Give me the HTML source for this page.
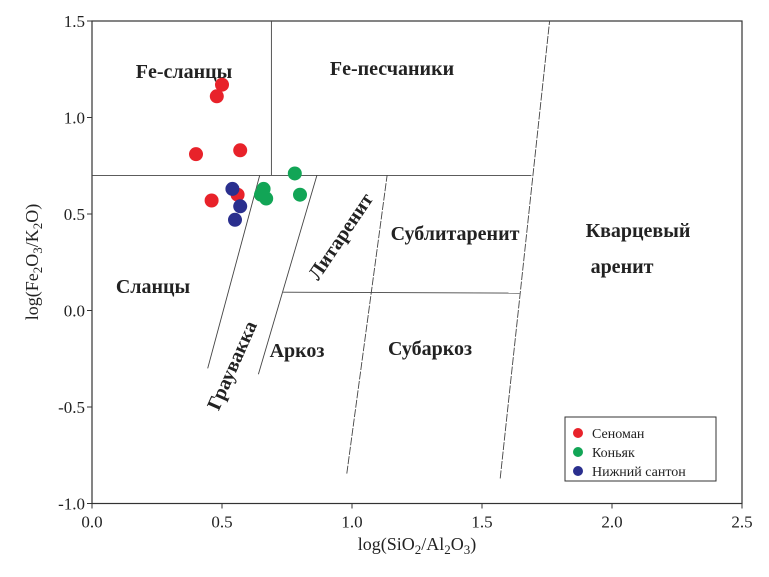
<!DOCTYPE html>
<html><head><meta charset="utf-8"><style>
body{margin:0;background:#fff;}
svg{display:block;font-family:"Liberation Serif",serif;}
.lab{font-weight:bold;font-size:20px;fill:#222;}
.tick{font-size:17px;fill:#222;}
</style></head><body>
<svg id="chart" width="769" height="577"></svg>
<script>
const xTicks=[0,0.5,1.0,1.5,2.0,2.5];
const yTicks=[-1.0,-0.5,0.0,0.5,1.0,1.5];
const senomanX=[0.50,0.48,0.40,0.57,0.46,0.56];
const senomanY=[1.17,1.11,0.81,0.83,0.57,0.60];
const konyakX=[0.66,0.65,0.67,0.78,0.80];
const konyakY=[0.63,0.60,0.58,0.71,0.60];
const santonX=[0.54,0.57,0.55];
const santonY=[0.63,0.54,0.47];
const sx=v=>92+260*v, sy=v=>310.5-193*v;
const svg=document.getElementById('chart');
const NS='http://www.w3.org/2000/svg';
function mk(t,a,p){const e=document.createElementNS(NS,t);for(const k in a)e.setAttribute(k,a[k]);(p||svg).appendChild(e);return e;}
let fr=mk('rect',{x:sx(0),y:sy(1.5),width:sx(2.5)-sx(0),height:sy(-1)-sy(1.5),fill:'none',stroke:'#333','stroke-width':1.2});


xTicks.forEach(v=>{
 mk('line',{x1:sx(v),x2:sx(v),y1:sy(-1),y2:sy(-1)+5,stroke:'#333'});
 const t=mk('text',{x:sx(v),y:sy(-1)+24,'text-anchor':'middle',class:'tick'});t.textContent=v.toFixed(1);
 
 
});
yTicks.forEach(v=>{
 mk('line',{x1:sx(0)-5,x2:sx(0),y1:sy(v),y2:sy(v),stroke:'#333'});
 const t=mk('text',{x:sx(0)-7,y:sy(v)+6,'text-anchor':'end',class:'tick'});t.textContent=v.toFixed(1);
 
 
});
const lines=[[0,0.70,1.69,0.70,0],[0.69,0.70,0.69,1.5,0],[0.445,-0.30,0.645,0.70,0],[0.64,-0.33,0.865,0.70,0],
[0.735,0.095,1.645,0.09,0],[0.98,-0.845,1.135,0.70,1],[1.57,-0.87,1.76,1.5,1]];
lines.forEach(l=>{const e=mk('line',{x1:sx(l[0]),y1:sy(l[1]),x2:sx(l[2]),y2:sy(l[3]),stroke:'#444','stroke-width':0.9});
 if(l[4])e.setAttribute('stroke-dasharray','8,1.5');
 
 });
function lab(x,y,s,rot,name){const t=mk('text',{x:x,y:y,class:'lab','text-anchor':'middle'});t.textContent=s;
 if(rot)t.setAttribute('transform',`rotate(${rot} ${x} ${y})`);
 
 }
lab(184,78,'Fe-сланцы',0,'fe-shale-label');
lab(392,75,'Fe-песчаники',0,'fe-sandstone-label');
lab(153,293,'Сланцы',0,'shale-label');
lab(455,240,'Сублитаренит',0,'sublitharenite-label');
lab(638,237,'Кварцевый',0,'quartz-arenite-label-1');
lab(622,273,'аренит',0,'quartz-arenite-label-2');
lab(297,357,'Аркоз',0,'arkose-label');
lab(430,355,'Субаркоз',0,'subarkose-label');
lab(346,240,'Литаренит',-56,'litharenite-label');
lab(238,368,'Граувакка',-66,'graywacke-label');
function series(xs,ys,c,name){xs.forEach((v,i)=>{const e=mk('circle',{cx:sx(v),cy:sy(ys[i]),r:7,fill:c});
 
 });}
series(senomanX,senomanY,'#e8222a','point-senoman');
series(santonX,santonY,'#2a2f8e','point-lower-santon');
series(konyakX,konyakY,'#12a556','point-konyak');
const xt=mk('text',{x:sx(1.25),y:550,'text-anchor':'middle',style:'font-size:18px;fill:#222'});
xt.innerHTML='log(SiO<tspan dy="4" font-size="13">2</tspan><tspan dy="-4">/Al</tspan><tspan dy="4" font-size="13">2</tspan><tspan dy="-4">O</tspan><tspan dy="4" font-size="13">3</tspan><tspan dy="-4">)</tspan>';


const yt=mk('text',{x:38,y:262,'text-anchor':'middle',style:'font-size:18px;fill:#222',transform:'rotate(-90 38 262)'});
yt.innerHTML='log(Fe<tspan dy="4" font-size="13">2</tspan><tspan dy="-4">O</tspan><tspan dy="4" font-size="13">3</tspan><tspan dy="-4">/K</tspan><tspan dy="4" font-size="13">2</tspan><tspan dy="-4">O)</tspan>';


const lg=mk('g',{});


mk('rect',{x:565,y:417,width:151,height:64,fill:'#fff',stroke:'#333'},lg);
const legNames=['Сеноман','Коньяк','Нижний сантон'],legCols=['#e8222a','#12a556','#2a2f8e'];
legNames.forEach((n,i)=>{const g=mk('g',{},lg);
 
 
 mk('circle',{cx:578,cy:433+i*19,r:5,fill:legCols[i]},g);
 const t=mk('text',{x:592,y:438+i*19,style:'font-size:14px;fill:#222'},g);t.textContent=n;});
</script>
</body></html>
